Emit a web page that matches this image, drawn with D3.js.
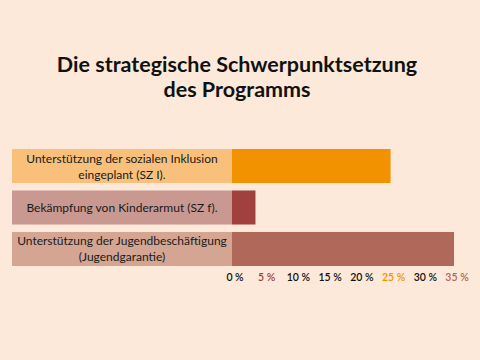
<!DOCTYPE html>
<html>
<head>
  <meta charset="utf-8">
  <style>
    body { margin: 0; background: #fce9d9; }
    svg { display: block; font-family: Lato, sans-serif; }
  </style>
</head>
<body>
  <svg class="chart" width="480" height="360"></svg>
  <script src="https://cdn.jsdelivr.net/npm/d3@7"></script>
  <script>
    var titleLines = ['Die strategische Schwerpunktsetzung', 'des Programms'];
    var categories = [
      ['Unterstützung der sozialen Inklusion', 'eingeplant (SZ I).'],
      ['Bekämpfung von Kinderarmut (SZ f).'],
      ['Unterstützung der Jugendbeschäftigung', '(Jugendgarantie)']
    ];
    var values = [25, 3.7, 35];
    var barColors = ['#f39200', '#a0413f', '#b0685a'];
    var boxColors = ['#f8c07a', '#c99891', '#d4a592'];
    var ticks = [0, 5, 10, 15, 20, 25, 30, 35];
    var tickColors = { 5: '#a0413f', 25: '#f39200', 35: '#b0685a' };

    var svg = d3.select('svg.chart');

    svg.append('rect').attr('width', 480).attr('height', 360).attr('fill', '#fce9d9');

    svg.selectAll('text.title')
      .data(titleLines)
      .enter().append('text')
      .attr('class', 'title')
      .attr('x', 237)
      .attr('y', function(d, i) { return 72 + i * 25; })
      .attr('text-anchor', 'middle')
      .attr('font-size', 21.5)
      .attr('font-weight', 700)
      .attr('fill', '#111')
      .text(function(d) { return d; });

    var x = d3.scaleLinear().domain([0, 35]).range([232, 454]);
    var y = d3.scaleBand().domain(d3.range(categories.length)).range([149, 266]).paddingInner(0.18).paddingOuter(0);

    // label boxes
    svg.selectAll('rect.box')
      .data(categories)
      .enter().append('rect')
      .attr('x', 12)
      .attr('y', function(d, i) { return y(i); })
      .attr('width', x(0) - 12)
      .attr('height', y.bandwidth())
      .attr('fill', function(d, i) { return boxColors[i]; });

    svg.selectAll('rect.bar')
      .data(values)
      .enter().append('rect')
      .attr('x', x(0))
      .attr('y', function(d, i) { return y(i); })
      .attr('width', function(d) { return x(d) - x(0); })
      .attr('height', y.bandwidth())
      .attr('fill', function(d, i) { return barColors[i]; });

    var labels = svg.selectAll('text.label')
      .data(categories)
      .enter().append('text')
      .attr('text-anchor', 'middle')
      .attr('font-size', 12)
      .attr('fill', '#1a1a1a');

    labels.each(function(lines, i) {
      var cy = y(i) + y.bandwidth() / 2;
      var start = cy - (lines.length - 1) * 8 + 4.5;
      d3.select(this).selectAll('tspan')
        .data(lines)
        .enter().append('tspan')
        .attr('x', 122)
        .attr('y', function(d, j) { return start + j * 16; })
        .text(function(d) { return d; });
    });

    svg.selectAll('text.tick')
      .data(ticks)
      .enter().append('text')
      .attr('x', function(d) { return x(d) + 3; })
      .attr('y', 281)
      .attr('text-anchor', 'middle')
      .attr('font-size', 10.5)
      .attr('font-weight', 600)
      .attr('fill', function(d) { return tickColors[d] || '#111'; })
      .text(function(d) { return d + ' %'; });
  </script>
</body>
</html>
